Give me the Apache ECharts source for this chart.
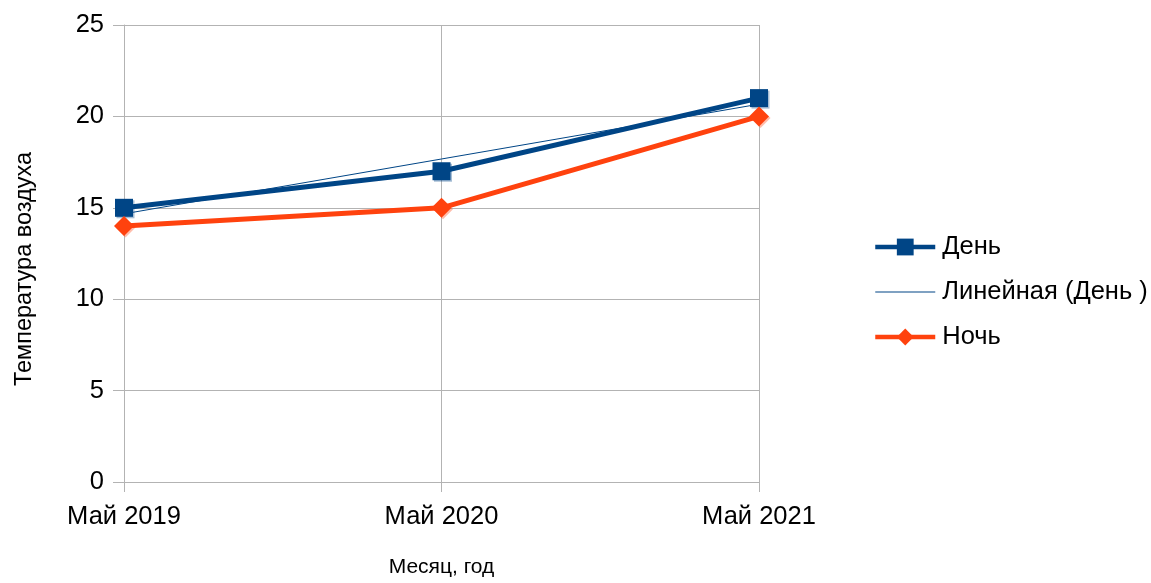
<!DOCTYPE html>
<html>
<head>
<meta charset="utf-8">
<script src="https://cdn.jsdelivr.net/npm/echarts@6/dist/echarts.min.js"></script>
<style>
  html, body { margin: 0; padding: 0; background: #ffffff; }
  #chart { width: 1151px; height: 583px; }
</style>
</head>
<body>
<div id="chart"></div>
<script>
// Air temperature in May: day, night and the linear trend of the day series
const months = ['Май 2019', 'Май 2020', 'Май 2021'];
const dayTemps = [15, 17, 21];
const dayTrend = [14.67, 17.67, 20.67];
const nightTemps = [14, 15, 20];
const seriesNames = ['День', 'Линейная (День )', 'Ночь'];

const FONT = '"Liberation Sans", Arial, sans-serif';
const GRID_COLOR = '#b3b3b3';
const BLUE = '#004586';
const ORANGE = '#ff420e';
const LABEL_SIZE = 25.5;

const chart = echarts.init(document.getElementById('chart'), null, { renderer: 'canvas' });

chart.setOption({
  animation: false,
  backgroundColor: '#ffffff',
  textStyle: { fontFamily: FONT, color: '#000000' },
  grid: { left: 124, top: 25, width: 635, height: 460, containLabel: false },
  legend: {
    orient: 'vertical',
    left: 868,
    top: 229,
    itemWidth: 60,
    itemHeight: 21,
    itemGap: 19,
    textStyle: { fontFamily: FONT, fontSize: LABEL_SIZE, color: '#000000', padding: [0, 0, 0, 2] },
    data: [
      { name: seriesNames[0], lineStyle: { width: 4.5 } },
      { name: seriesNames[1], icon: 'path://M0,0h60v1h-60z' },
      { name: seriesNames[2], lineStyle: { width: 4.5 } }
    ]
  },
  xAxis: {
    type: 'category',
    data: months,
    boundaryGap: false,
    name: 'Месяц, год',
    nameLocation: 'middle',
    nameGap: 75,
    nameTextStyle: { fontFamily: FONT, fontSize: 21, color: '#000000' },
    axisLine: { show: true, lineStyle: { color: GRID_COLOR, width: 1 } },
    axisTick: { show: true, length: 10, lineStyle: { color: GRID_COLOR } },
    axisLabel: { fontFamily: FONT, fontSize: LABEL_SIZE, color: '#000000', margin: 22 },
    splitLine: { show: true, lineStyle: { color: GRID_COLOR, width: 1 } }
  },
  yAxis: {
    type: 'value',
    min: 0,
    max: 25,
    interval: 5,
    name: 'Температура воздуха',
    nameLocation: 'middle',
    nameGap: 87,
    nameTextStyle: { fontFamily: FONT, fontSize: 23.5, color: '#000000', padding: [0, 31, 0, 0] },
    axisLine: { show: true, lineStyle: { color: GRID_COLOR, width: 1 } },
    axisTick: { show: true, length: 11, lineStyle: { color: GRID_COLOR } },
    axisLabel: { fontFamily: FONT, fontSize: LABEL_SIZE, color: '#000000', margin: 20 },
    splitLine: { show: true, lineStyle: { color: GRID_COLOR, width: 1 } }
  },
  series: [
    {
      name: seriesNames[0],
      type: 'line',
      data: dayTemps,
      symbol: 'rect',
      symbolSize: 18,
      showAllSymbol: true,
      lineStyle: { color: BLUE, width: 5 },
      itemStyle: { color: BLUE, shadowColor: 'rgba(0,69,134,0.35)', shadowOffsetX: 1.5, shadowOffsetY: 1.5 },
      z: 3
    },
    {
      name: seriesNames[1],
      type: 'line',
      data: dayTrend,
      symbol: 'none',
      lineStyle: { color: BLUE, width: 1 },
      itemStyle: { color: BLUE },
      z: 4
    },
    {
      name: seriesNames[2],
      type: 'line',
      data: nightTemps,
      symbol: 'diamond',
      symbolSize: 20,
      showAllSymbol: true,
      lineStyle: { color: ORANGE, width: 5 },
      itemStyle: { color: ORANGE, shadowColor: 'rgba(255,66,14,0.35)', shadowOffsetX: 1.5, shadowOffsetY: 1.5 },
      z: 5
    }
  ]
});
</script>
</body>
</html>
